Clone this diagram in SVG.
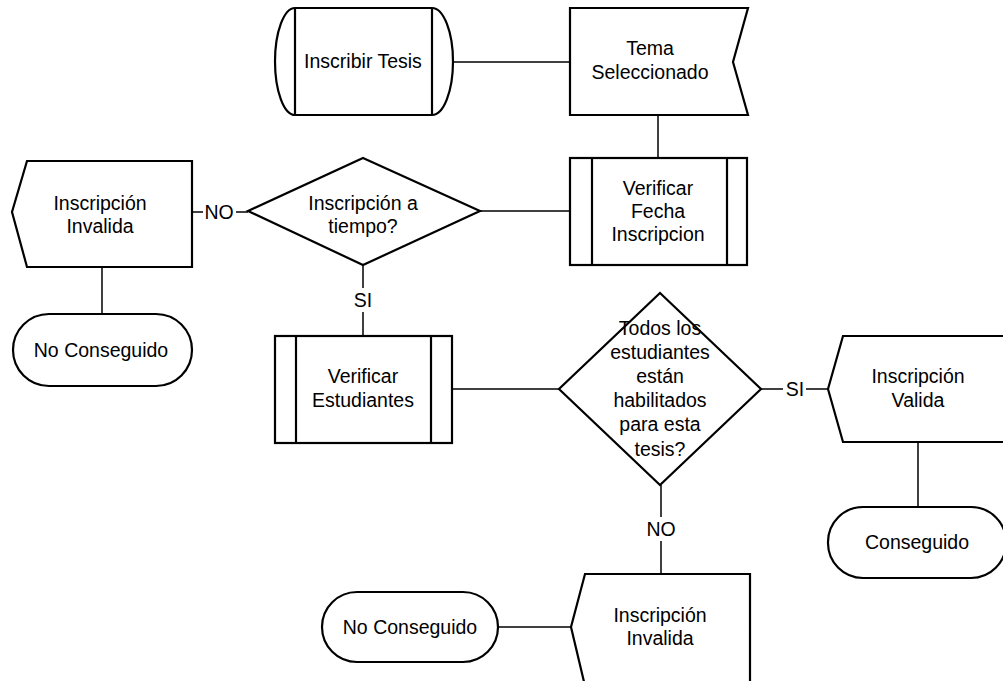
<svg xmlns="http://www.w3.org/2000/svg" width="1003" height="681" viewBox="0 0 1003 681">
  <style>
    .shape { fill: #ffffff; stroke: #000000; stroke-width: 2.2; stroke-linejoin: miter; }
    .inner { fill: none; stroke: #000000; stroke-width: 2.2; }
    .conn { fill: none; stroke: #000000; stroke-width: 1.5; }
    text { font-family: "Liberation Sans", Arial, sans-serif; font-size: 19.5px; fill: #000000; text-anchor: middle; }
  </style>
  <rect width="1003" height="681" fill="#ffffff"/>

  <!-- connectors -->
  <g id="connectors">
    <line class="conn" x1="453" y1="62" x2="570" y2="62"/>
    <line class="conn" x1="658" y1="115" x2="658" y2="158"/>
    <line class="conn" x1="480" y1="211" x2="570" y2="211"/>
    <line class="conn" x1="192" y1="212" x2="203" y2="212"/>
    <line class="conn" x1="236" y1="212" x2="248" y2="212"/>
    <line class="conn" x1="102" y1="267" x2="102" y2="314"/>
    <line class="conn" x1="363" y1="265" x2="363" y2="288"/>
    <line class="conn" x1="363" y1="312" x2="363" y2="336"/>
    <line class="conn" x1="452" y1="389" x2="559" y2="389"/>
    <line class="conn" x1="761" y1="389" x2="783" y2="389"/>
    <line class="conn" x1="806" y1="389" x2="828" y2="389"/>
    <line class="conn" x1="918" y1="442" x2="918" y2="507"/>
    <line class="conn" x1="661" y1="485" x2="661" y2="517"/>
    <line class="conn" x1="661" y1="541" x2="661" y2="574"/>
    <line class="conn" x1="498" y1="627" x2="571" y2="627"/>
    <text x="219" y="219">NO</text>
    <text x="363" y="307">SI</text>
    <text x="795" y="396">SI</text>
    <text x="661" y="536">NO</text>
  </g>

  <!-- Inscribir Tesis -->
  <g id="inscribir-tesis">
    <path class="shape" d="M295,8 H432 A21,53.5 0 0 1 432,115 H295 A20,53.5 0 0 1 295,8 Z"/>
    <line class="inner" x1="295" y1="8" x2="295" y2="115"/>
    <line class="inner" x1="432" y1="8" x2="432" y2="115"/>
    <text x="363" y="68">Inscribir Tesis</text>
  </g>

  <!-- Tema Seleccionado -->
  <g id="tema-seleccionado">
    <polygon class="shape" points="570,8 748,8 733,62 748,115 570,115"/>
    <text x="650" y="55">Tema</text>
    <text x="650" y="79">Seleccionado</text>
  </g>

  <!-- Verificar Fecha Inscripcion -->
  <g id="verificar-fecha">
    <rect class="shape" x="570" y="158" width="177" height="107"/>
    <line class="inner" x1="592" y1="158" x2="592" y2="265"/>
    <line class="inner" x1="727" y1="158" x2="727" y2="265"/>
    <text x="658" y="195">Verificar</text>
    <text x="658" y="218">Fecha</text>
    <text x="658" y="241">Inscripcion</text>
  </g>

  <!-- Inscripción a tiempo? -->
  <g id="decision-tiempo">
    <polygon class="shape" points="363,158 480,211 363,265 248,211"/>
    <text x="363" y="210">Inscripción a</text>
    <text x="363" y="233">tiempo?</text>
  </g>

  <!-- Inscripción Invalida (izquierda) -->
  <g id="invalida-1">
    <polygon class="shape" points="27,161 192,161 192,267 27,267 12,212"/>
    <text x="100" y="210">Inscripción</text>
    <text x="100" y="233">Invalida</text>
  </g>

  <!-- No Conseguido (izquierda) -->
  <g id="no-conseguido-1">
    <rect class="shape" x="13" y="314" width="179" height="72" rx="36" ry="36"/>
    <text x="101" y="357">No Conseguido</text>
  </g>

  <!-- Verificar Estudiantes -->
  <g id="verificar-estudiantes">
    <rect class="shape" x="275" y="336" width="177" height="107"/>
    <line class="inner" x1="296" y1="336" x2="296" y2="443"/>
    <line class="inner" x1="431" y1="336" x2="431" y2="443"/>
    <text x="363" y="383">Verificar</text>
    <text x="363" y="407">Estudiantes</text>
  </g>

  <!-- Todos los estudiantes habilitados? -->
  <g id="decision-estudiantes">
    <polygon class="shape" points="660,293 761,389 660,485 559,389"/>
    <text x="660" y="335">Todos los</text>
    <text x="660" y="359">estudiantes</text>
    <text x="660" y="383">están</text>
    <text x="660" y="407">habilitados</text>
    <text x="660" y="431">para esta</text>
    <text x="660" y="456">tesis?</text>
  </g>

  <!-- Inscripción Valida -->
  <g id="valida">
    <polygon class="shape" points="843,336 1010,336 1010,442 843,442 828,389"/>
    <text x="918" y="383">Inscripción</text>
    <text x="918" y="407">Valida</text>
  </g>

  <!-- Conseguido -->
  <g id="conseguido">
    <rect class="shape" x="828" y="507" width="178" height="71" rx="35" ry="35"/>
    <text x="917" y="549">Conseguido</text>
  </g>

  <!-- Inscripción Invalida (abajo) -->
  <g id="invalida-2">
    <polygon class="shape" points="585,574 750,574 750,686 585,686 571,627"/>
    <text x="660" y="622">Inscripción</text>
    <text x="660" y="645">Invalida</text>
  </g>

  <!-- No Conseguido (abajo) -->
  <g id="no-conseguido-2">
    <rect class="shape" x="322" y="592" width="176" height="70" rx="35" ry="35"/>
    <text x="410" y="634">No Conseguido</text>
  </g>
</svg>
